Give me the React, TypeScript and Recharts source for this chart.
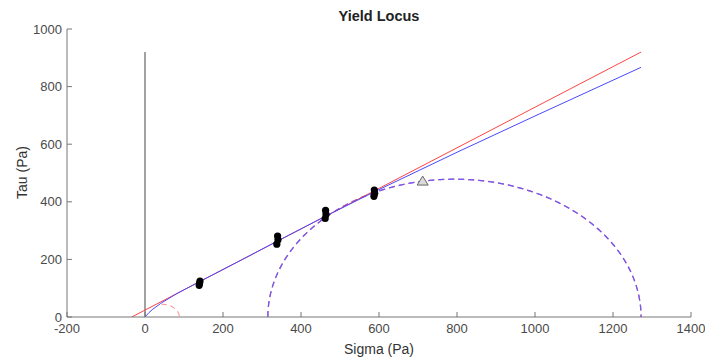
import React from 'react';
import { ComposedChart, Line, Scatter, XAxis, YAxis } from 'recharts';

const xTicks = [-200, 0, 200, 400, 600, 800, 1000, 1200, 1400];
const yTicks = [0, 200, 400, 600, 800, 1000];

const redLocus = [
  { x: -34, y: 0 },
  { x: 1272, y: 920 },
];

const blueLocus = [
  { x: 0, y: 0 },
  { x: 10, y: 15 },
  { x: 20, y: 27 },
  { x: 40, y: 47 },
  { x: 80, y: 80 },
  { x: 140, y: 123 },
  { x: 250, y: 200 },
  { x: 340, y: 264 },
  { x: 460, y: 348 },
  { x: 590, y: 436 },
  { x: 800, y: 572 },
  { x: 1000, y: 698 },
  { x: 1272, y: 867 },
];

const sigmaZeroLine = [
  { x: 0, y: 0 },
  { x: 0, y: 920 },
];

const measuredSigma = [139, 140, 141, 338, 341, 340, 462, 464, 463, 587, 589, 588];
const measuredTau = [110, 118, 125, 253, 268, 281, 342, 356, 370, 419, 430, 441];
const measuredPoints = measuredSigma.map((s, i) => ({ x: s, y: measuredTau[i] }));

const peakPoint = [{ x: 712, y: 472 }];

const bigCircle = { sigma3: 315, sigma1: 1272 };
const smallCircle = { sigma3: 0, sigma1: 88 };

function arc(c: { sigma3: number; sigma1: number }, minX: number) {
  const center = (c.sigma1 + c.sigma3) / 2;
  const r = (c.sigma1 - c.sigma3) / 2;
  const pts: { x: number; y: number }[] = [];
  const n = 120;
  for (let i = 0; i <= n; i++) {
    const a = Math.PI - (Math.PI * i) / n;
    const x = center + r * Math.cos(a);
    const y = r * Math.sin(a);
    if (x >= minX) pts.push({ x, y: Math.max(0, y) });
  }
  return pts;
}

const bigArc = arc(bigCircle, -1e9);
const smallArc = arc(smallCircle, 42);

const Dot = (props: any) => {
  const { cx, cy } = props;
  return <circle cx={cx} cy={cy} r={3.6} fill="#000" />;
};

const Tri = (props: any) => {
  const { cx, cy } = props;
  return (
    <polygon
      points={`${cx},${cy - 5} ${cx - 5.5},${cy + 4} ${cx + 5.5},${cy + 4}`}
      fill="#dcdcdc"
      stroke="#666"
      strokeWidth={1}
    />
  );
};

const tickStyle = { fontSize: 13, fill: '#4a4a4a', fontFamily: 'Liberation Sans, Arial, sans-serif' };

export default function App() {
  return (
    <div style={{ position: 'absolute', left: 0, top: 0, width: 705, height: 363, background: '#fff', fontFamily: 'Liberation Sans, Arial, sans-serif' }}>
      <ComposedChart width={705} height={363} margin={{ top: 29, right: 14, bottom: 0, left: 0 }}>
        <XAxis
          type="number"
          dataKey="x"
          domain={[-200, 1400]}
          ticks={xTicks}
          allowDataOverflow
          height={46}
          stroke="#777"
          tick={tickStyle}
          tickSize={-5}
          tickMargin={12}
        />
        <YAxis
          type="number"
          dataKey="y"
          domain={[0, 1000]}
          ticks={yTicks}
          allowDataOverflow
          width={67}
          stroke="#777"
          tick={tickStyle}
          tickSize={-5}
          tickMargin={10}
        />
        <Line data={sigmaZeroLine} dataKey="y" stroke="#444" strokeWidth={1} dot={false} activeDot={false} isAnimationActive={false} />
        <Line data={smallArc} dataKey="y" stroke="#ff6a6a" strokeWidth={1} strokeDasharray="5 4" dot={false} activeDot={false} isAnimationActive={false} />
        <Line data={bigArc} dataKey="y" stroke="#d04090" strokeWidth={1.2} strokeDasharray="6 4" dot={false} activeDot={false} isAnimationActive={false} />
        <Line data={bigArc} dataKey="y" stroke="#5e5eff" strokeOpacity={0.82} strokeWidth={1.3} strokeDasharray="6 4" dot={false} activeDot={false} isAnimationActive={false} />
        <Line data={redLocus} dataKey="y" stroke="#ff4444" strokeWidth={1} dot={false} activeDot={false} isAnimationActive={false} />
        <Line data={blueLocus} dataKey="y" stroke="#4848ff" strokeWidth={1} dot={false} activeDot={false} isAnimationActive={false} />
        <Scatter data={measuredPoints} dataKey="y" shape={Dot} isAnimationActive={false} />
        <Scatter data={peakPoint} dataKey="y" shape={Tri} isAnimationActive={false} />
      </ComposedChart>
      <div style={{ position: 'absolute', left: 0, width: 758, top: 8, textAlign: 'center', fontSize: 14.5, fontWeight: 'bold', color: '#222', lineHeight: '17px' }}>
        Yield Locus
      </div>
      <div style={{ position: 'absolute', left: 0, width: 758, top: 341, textAlign: 'center', fontSize: 14, color: '#333', lineHeight: '17px' }}>
        Sigma (Pa)
      </div>
      <div style={{ position: 'absolute', left: 22, top: 172, width: 0, height: 0 }}>
        <div style={{ position: 'absolute', left: -60, top: -8.5, width: 120, textAlign: 'center', fontSize: 14, color: '#333', lineHeight: '17px', transform: 'rotate(-90deg)' }}>
          Tau (Pa)
        </div>
      </div>
    </div>
  );
}
